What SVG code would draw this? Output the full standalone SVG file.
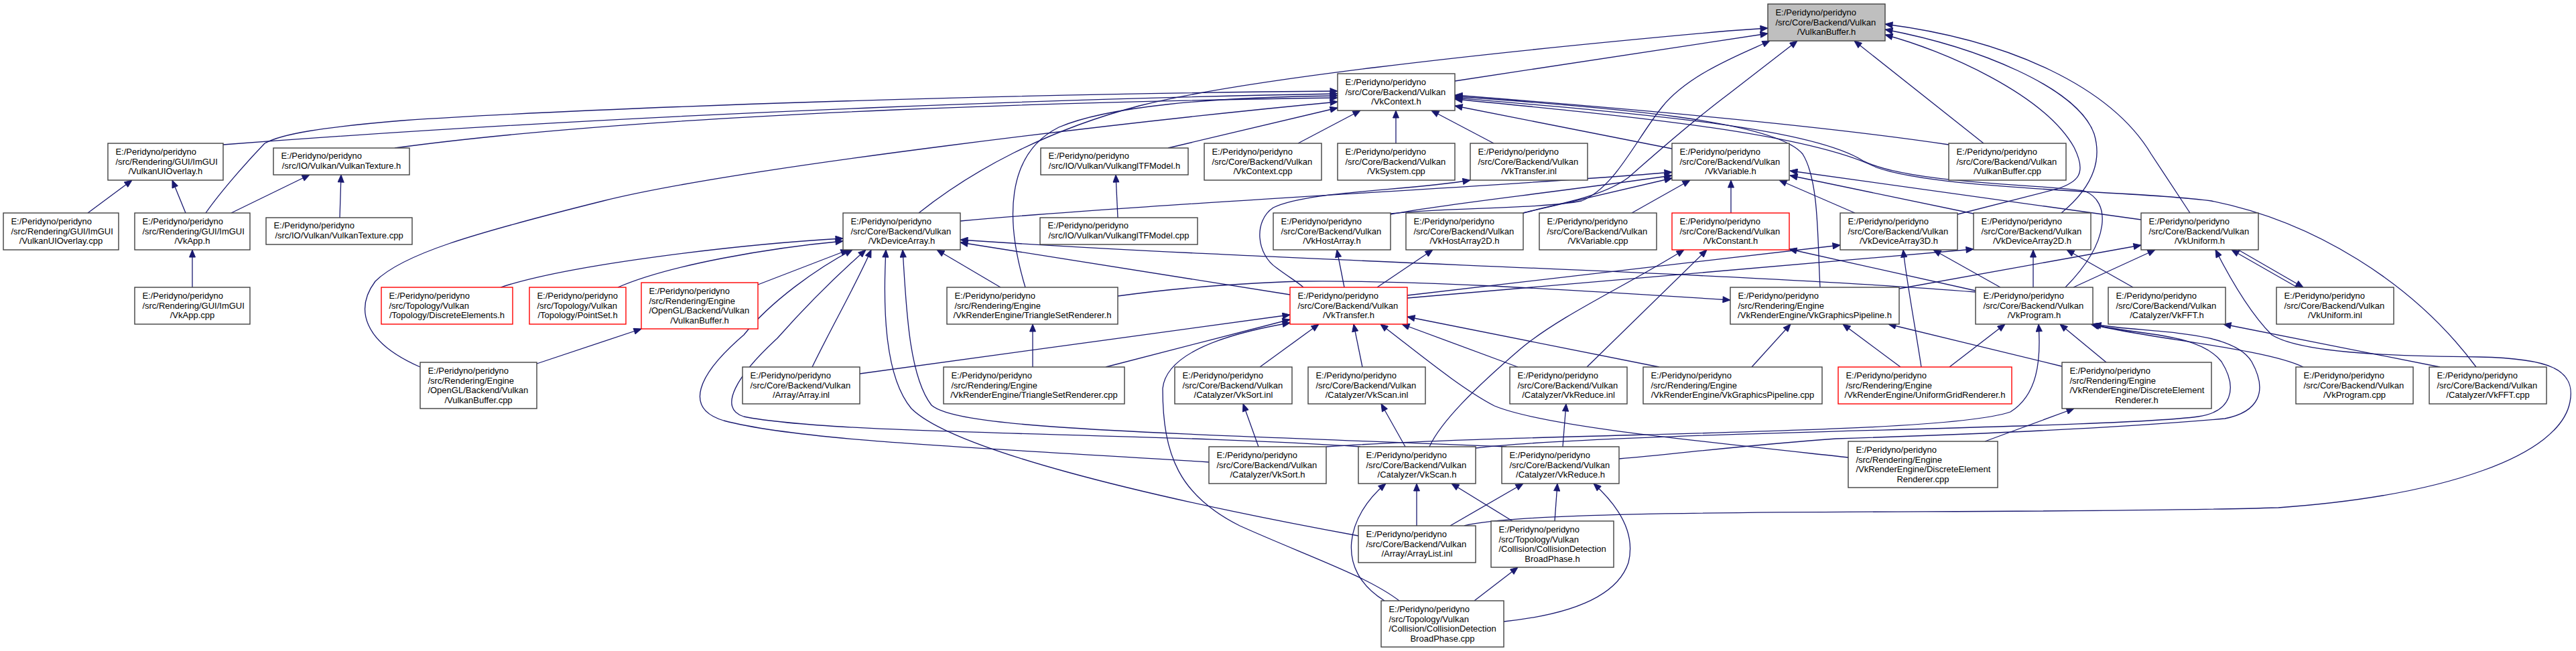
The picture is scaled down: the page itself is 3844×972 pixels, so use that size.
<svg xmlns="http://www.w3.org/2000/svg" width="3844" height="972" viewBox="0 0 3844 972">
<style>
.n rect{fill:#fff;stroke:#404040;stroke-width:1.4}
.n.red rect{stroke:#ff0000}
.n.root rect{fill:#bfbfbf}
.n text{font-family:"Liberation Sans",Arial,sans-serif;font-size:13px;fill:#000}
.n text.c{text-anchor:middle}
.e path{fill:none;stroke:#191970;stroke-width:1.3;marker-start:url(#ah)}
</style>
<defs>
<marker id="ah" viewBox="0 -5 12 10" refX="0" refY="0" markerWidth="12" markerHeight="10" markerUnits="userSpaceOnUse" orient="auto"><path d="M0,0 L11,-4.5 L11,4.5 Z" fill="#191970" stroke="#191970" stroke-width="1"/></marker>
</defs>
<rect x="0" y="0" width="3844" height="972" fill="#fff"/>
<g id="edges" class="e">
<path d="M2638,50 L2171,121"/>
<path d="M2638,42 L2580,46 C2200,80 1850,120 1700,158 C1560,195 1450,255 1371,318"/>
<path d="M2641,61 C2600,80 2520,110 2480,160 C2440,210 2410,280 2360,300 C2300,312 2150,310 2075,319"/>
<path d="M2682,61 L2580,140 C2520,185 2470,230 2430,265 C2390,295 2320,305 2273,318"/>
<path d="M2767,61 L2960,214"/>
<path d="M2813,52 C2900,75 3050,140 3095,220 C3115,260 3100,272 3070,282 L2921,320"/>
<path d="M2813,44 C2950,70 3100,130 3125,200 C3140,250 3110,290 3076,318"/>
<path d="M2813,36 C3000,60 3150,130 3210,230 L3268,318"/>
<path d="M1996,140 C1700,145 1000,165 333,216"/>
<path d="M1996,136 C1500,140 900,160 600,180 C480,190 420,200 395,214 C370,240 330,285 307,318"/>
<path d="M1996,146 C1700,150 1000,165 589,221"/>
<path d="M1996,152 C1700,180 1100,250 900,300 C700,350 600,380 560,420 C530,460 540,510 627,548"/>
<path d="M1996,143 C1800,145 1650,160 1580,190 C1500,230 1500,330 1530,429"/>
<path d="M1996,161 L1743,221"/>
<path d="M2030,165 L1937,214"/>
<path d="M2083,165 L2083,214"/>
<path d="M2136,165 L2229,214"/>
<path d="M2171,158 L2495,222"/>
<path d="M2171,142 C2400,160 2700,185 2908,216"/>
<path d="M2171,144 C2400,160 2650,180 2690,230 C2715,270 2712,360 2716,429"/>
<path d="M2171,146 C2450,170 2700,190 2780,240 C2850,275 3050,275 3110,285 C3150,300 3150,360 3082,429"/>
<path d="M2171,148 C2450,175 2700,200 2800,250 C2900,285 3200,285 3300,300 C3450,330 3600,420 3695,548"/>
<path d="M197,269 L131,318"/>
<path d="M257,269 L277,318"/>
<path d="M462,261 L345,318"/>
<path d="M509,261 L507,325"/>
<path d="M287,373 L287,429"/>
<path d="M1665,261 L1668,325"/>
<path d="M1258,356 C1100,365 850,395 747,429"/>
<path d="M1258,360 C1150,370 1000,395 922,429"/>
<path d="M1266,373 L1131,425"/>
<path d="M957,491 L801,543"/>
<path d="M1398,373 L1493,429"/>
<path d="M1300,373 C1280,420 1240,490 1212,548"/>
<path d="M1322,373 C1318,450 1318,560 1360,610 C1420,670 1700,740 2027,800"/>
<path d="M1272,373 C1220,400 1150,450 1110,500 C1040,560 1020,610 1080,628 C1200,660 1500,670 1804,690"/>
<path d="M1292,373 C1250,410 1200,460 1160,505 C1100,560 1070,610 1110,622 C1250,650 1700,645 2030,667"/>
<path d="M1347,373 C1352,450 1355,560 1390,605 C1430,640 1700,645 2248,667"/>
<path d="M1433,362 L1925,440"/>
<path d="M1433,358 C1900,390 2560,405 2948,436"/>
<path d="M2495,257 C2300,275 1700,305 1433,330"/>
<path d="M2495,262 C2300,290 2150,305 2075,320"/>
<path d="M2495,266 L2273,318"/>
<path d="M2522,269 L2435,318"/>
<path d="M2583,269 L2583,318"/>
<path d="M2655,269 L2768,318"/>
<path d="M2671,262 L2945,319"/>
<path d="M2671,255 L3195,328"/>
<path d="M2194,269 C2100,285 1950,285 1900,310 C1870,330 1875,380 1905,400 C1925,415 1935,420 1945,429"/>
<path d="M1995,373 L2006,429"/>
<path d="M2138,373 L2055,429"/>
<path d="M2513,373 C2430,425 2330,470 2270,520 C2200,580 2150,630 2133,667"/>
<path d="M2547,373 L2368,548"/>
<path d="M2670,372 L2948,434"/>
<path d="M1968,484 L1880,548"/>
<path d="M2020,484 L2033,548"/>
<path d="M2060,484 C2120,530 2180,580 2230,606 C2300,635 2500,655 2758,683"/>
<path d="M2092,484 L2265,548"/>
<path d="M2100,473 L2476,548"/>
<path d="M1925,470 L1283,558"/>
<path d="M1925,477 L1650,548"/>
<path d="M1925,482 C1820,500 1740,530 1735,580 C1735,680 1760,740 1850,785 C1950,830 2040,860 2088,897"/>
<path d="M1541,484 L1541,548"/>
<path d="M2582,448 C2300,430 2100,418 1940,420 C1800,425 1720,435 1668,442"/>
<path d="M2672,484 L2614,548"/>
<path d="M2750,484 L2836,548"/>
<path d="M2818,484 L3077,547"/>
<path d="M3195,366 L2834,431"/>
<path d="M2885,373 L2985,429"/>
<path d="M3034,373 L3034,429"/>
<path d="M3216,373 L3094,429"/>
<path d="M3084,373 L3183,429"/>
<path d="M2840,373 C2845,420 2860,500 2867,548"/>
<path d="M2746,366 L2100,441"/>
<path d="M2945,372 L2100,445"/>
<path d="M2992,484 L2909,548"/>
<path d="M3120,484 C3200,505 3380,520 3437,548"/>
<path d="M3318,484 L3641,548"/>
<path d="M3074,484 L3143,541"/>
<path d="M3095,610 L2962,659"/>
<path d="M2061,603 L2097,667"/>
<path d="M2337,603 L2332,667"/>
<path d="M1855,603 L1878,667"/>
<path d="M2114,722 L2114,785"/>
<path d="M2273,722 L2164,785"/>
<path d="M2166,722 L2257,778"/>
<path d="M2324,722 L2320,778"/>
<path d="M2068,722 C2010,770 1990,850 2066,897"/>
<path d="M2378,722 C2420,760 2440,800 2430,840 C2410,900 2320,920 2244,928"/>
<path d="M2265,847 L2200,897"/>
<path d="M3306,373 C3330,420 3360,470 3390,500 C3430,525 3550,532 3700,533 C3800,535 3845,550 3835,600 C3820,680 3650,740 3400,758 C3000,770 2300,755 2185,785"/>
<path d="M3330,373 L3428,429"/>
<path d="M3437,429 L3340,373"/>
<path d="M3042,484 C3046,540 3040,590 3000,615 C2900,650 2300,645 1979,667"/>
<path d="M3122,484 C3180,500 3280,495 3315,540 C3340,580 3330,615 3280,622 C3150,640 2400,645 2202,669"/>
<path d="M3124,484 C3200,498 3330,490 3360,540 C3385,585 3370,615 3320,625 C3150,640 2900,650 2740,655 C2600,665 2500,678 2416,685"/>
</g>
<g id="n01" class="n root"><rect x="2638" y="6" width="175" height="55"/><text x="2649.4" y="23">E:/Peridyno/peridyno</text><text x="2649.4" y="37.5">/src/Core/Backend/Vulkan</text><text class="c" x="2725.5" y="52">/VulkanBuffer.h</text></g>
<g id="n02" class="n"><rect x="1996" y="110" width="175" height="55"/><text x="2007.4" y="127">E:/Peridyno/peridyno</text><text x="2007.4" y="141.5">/src/Core/Backend/Vulkan</text><text class="c" x="2083.5" y="156">/VkContext.h</text></g>
<g id="n03" class="n"><rect x="161" y="214" width="172" height="55"/><text x="172.4" y="231">E:/Peridyno/peridyno</text><text x="172.4" y="245.5">/src/Rendering/GUI/ImGUI</text><text class="c" x="247" y="260">/VulkanUIOverlay.h</text></g>
<g id="n04" class="n"><rect x="408" y="221" width="203" height="40"/><text x="419.4" y="237">E:/Peridyno/peridyno</text><text class="c" x="509.5" y="251.5">/src/IO/Vulkan/VulkanTexture.h</text></g>
<g id="n05" class="n"><rect x="1553" y="221" width="220" height="40"/><text x="1564.4" y="237">E:/Peridyno/peridyno</text><text class="c" x="1663" y="251.5">/src/IO/Vulkan/VulkanglTFModel.h</text></g>
<g id="n06" class="n"><rect x="1797" y="214" width="175" height="55"/><text x="1808.4" y="231">E:/Peridyno/peridyno</text><text x="1808.4" y="245.5">/src/Core/Backend/Vulkan</text><text class="c" x="1884.5" y="260">/VkContext.cpp</text></g>
<g id="n07" class="n"><rect x="1996" y="214" width="175" height="55"/><text x="2007.4" y="231">E:/Peridyno/peridyno</text><text x="2007.4" y="245.5">/src/Core/Backend/Vulkan</text><text class="c" x="2083.5" y="260">/VkSystem.cpp</text></g>
<g id="n08" class="n"><rect x="2194" y="214" width="175" height="55"/><text x="2205.4" y="231">E:/Peridyno/peridyno</text><text x="2205.4" y="245.5">/src/Core/Backend/Vulkan</text><text class="c" x="2281.5" y="260">/VkTransfer.inl</text></g>
<g id="n09" class="n"><rect x="2495" y="214" width="175" height="55"/><text x="2506.4" y="231">E:/Peridyno/peridyno</text><text x="2506.4" y="245.5">/src/Core/Backend/Vulkan</text><text class="c" x="2582.5" y="260">/VkVariable.h</text></g>
<g id="n10" class="n"><rect x="2908" y="214" width="175" height="55"/><text x="2919.4" y="231">E:/Peridyno/peridyno</text><text x="2919.4" y="245.5">/src/Core/Backend/Vulkan</text><text class="c" x="2995.5" y="260">/VulkanBuffer.cpp</text></g>
<g id="n11" class="n"><rect x="5" y="318" width="172" height="55"/><text x="16.4" y="335">E:/Peridyno/peridyno</text><text x="16.4" y="349.5">/src/Rendering/GUI/ImGUI</text><text class="c" x="91" y="364">/VulkanUIOverlay.cpp</text></g>
<g id="n12" class="n"><rect x="201" y="318" width="172" height="55"/><text x="212.4" y="335">E:/Peridyno/peridyno</text><text x="212.4" y="349.5">/src/Rendering/GUI/ImGUI</text><text class="c" x="287" y="364">/VkApp.h</text></g>
<g id="n13" class="n"><rect x="397" y="325" width="218" height="40"/><text x="408.4" y="341">E:/Peridyno/peridyno</text><text class="c" x="506" y="355.5">/src/IO/Vulkan/VulkanTexture.cpp</text></g>
<g id="n14" class="n"><rect x="1258" y="318" width="175" height="55"/><text x="1269.4" y="335">E:/Peridyno/peridyno</text><text x="1269.4" y="349.5">/src/Core/Backend/Vulkan</text><text class="c" x="1345.5" y="364">/VkDeviceArray.h</text></g>
<g id="n15" class="n"><rect x="1552" y="325" width="235" height="40"/><text x="1563.4" y="341">E:/Peridyno/peridyno</text><text class="c" x="1669.5" y="355.5">/src/IO/Vulkan/VulkanglTFModel.cpp</text></g>
<g id="n16" class="n"><rect x="1900" y="318" width="175" height="55"/><text x="1911.4" y="335">E:/Peridyno/peridyno</text><text x="1911.4" y="349.5">/src/Core/Backend/Vulkan</text><text class="c" x="1987.5" y="364">/VkHostArray.h</text></g>
<g id="n17" class="n"><rect x="2098" y="318" width="175" height="55"/><text x="2109.4" y="335">E:/Peridyno/peridyno</text><text x="2109.4" y="349.5">/src/Core/Backend/Vulkan</text><text class="c" x="2185.5" y="364">/VkHostArray2D.h</text></g>
<g id="n18" class="n"><rect x="2297" y="318" width="175" height="55"/><text x="2308.4" y="335">E:/Peridyno/peridyno</text><text x="2308.4" y="349.5">/src/Core/Backend/Vulkan</text><text class="c" x="2384.5" y="364">/VkVariable.cpp</text></g>
<g id="n19" class="n red"><rect x="2495" y="318" width="175" height="55"/><text x="2506.4" y="335">E:/Peridyno/peridyno</text><text x="2506.4" y="349.5">/src/Core/Backend/Vulkan</text><text class="c" x="2582.5" y="364">/VkConstant.h</text></g>
<g id="n20" class="n"><rect x="2746" y="318" width="175" height="55"/><text x="2757.4" y="335">E:/Peridyno/peridyno</text><text x="2757.4" y="349.5">/src/Core/Backend/Vulkan</text><text class="c" x="2833.5" y="364">/VkDeviceArray3D.h</text></g>
<g id="n21" class="n"><rect x="2945" y="318" width="175" height="55"/><text x="2956.4" y="335">E:/Peridyno/peridyno</text><text x="2956.4" y="349.5">/src/Core/Backend/Vulkan</text><text class="c" x="3032.5" y="364">/VkDeviceArray2D.h</text></g>
<g id="n22" class="n"><rect x="3195" y="318" width="175" height="55"/><text x="3206.4" y="335">E:/Peridyno/peridyno</text><text x="3206.4" y="349.5">/src/Core/Backend/Vulkan</text><text class="c" x="3282.5" y="364">/VkUniform.h</text></g>
<g id="n23" class="n"><rect x="201" y="429" width="172" height="55"/><text x="212.4" y="446">E:/Peridyno/peridyno</text><text x="212.4" y="460.5">/src/Rendering/GUI/ImGUI</text><text class="c" x="287" y="475">/VkApp.cpp</text></g>
<g id="n24" class="n red"><rect x="569" y="429" width="196" height="55"/><text x="580.4" y="446">E:/Peridyno/peridyno</text><text x="580.4" y="460.5">/src/Topology/Vulkan</text><text class="c" x="667" y="475">/Topology/DiscreteElements.h</text></g>
<g id="n25" class="n red"><rect x="790" y="429" width="144" height="55"/><text x="801.4" y="446">E:/Peridyno/peridyno</text><text x="801.4" y="460.5">/src/Topology/Vulkan</text><text class="c" x="862" y="475">/Topology/PointSet.h</text></g>
<g id="n26" class="n red"><rect x="957" y="422" width="174" height="69"/><text x="968.4" y="439">E:/Peridyno/peridyno</text><text x="968.4" y="453.5">/src/Rendering/Engine</text><text x="968.4" y="468">/OpenGL/Backend/Vulkan</text><text class="c" x="1044" y="482.5">/VulkanBuffer.h</text></g>
<g id="n27" class="n"><rect x="1413" y="429" width="255" height="55"/><text x="1424.4" y="446">E:/Peridyno/peridyno</text><text x="1424.4" y="460.5">/src/Rendering/Engine</text><text class="c" x="1540.5" y="475">/VkRenderEngine/TriangleSetRenderer.h</text></g>
<g id="n28" class="n red"><rect x="1925" y="429" width="175" height="55"/><text x="1936.4" y="446">E:/Peridyno/peridyno</text><text x="1936.4" y="460.5">/src/Core/Backend/Vulkan</text><text class="c" x="2012.5" y="475">/VkTransfer.h</text></g>
<g id="n29" class="n"><rect x="2582" y="429" width="252" height="55"/><text x="2593.4" y="446">E:/Peridyno/peridyno</text><text x="2593.4" y="460.5">/src/Rendering/Engine</text><text class="c" x="2708" y="475">/VkRenderEngine/VkGraphicsPipeline.h</text></g>
<g id="n30" class="n"><rect x="2948" y="429" width="175" height="55"/><text x="2959.4" y="446">E:/Peridyno/peridyno</text><text x="2959.4" y="460.5">/src/Core/Backend/Vulkan</text><text class="c" x="3035.5" y="475">/VkProgram.h</text></g>
<g id="n31" class="n"><rect x="3146" y="429" width="175" height="55"/><text x="3157.4" y="446">E:/Peridyno/peridyno</text><text x="3157.4" y="460.5">/src/Core/Backend/Vulkan</text><text class="c" x="3233.5" y="475">/Catalyzer/VkFFT.h</text></g>
<g id="n32" class="n"><rect x="3397" y="429" width="175" height="55"/><text x="3408.4" y="446">E:/Peridyno/peridyno</text><text x="3408.4" y="460.5">/src/Core/Backend/Vulkan</text><text class="c" x="3484.5" y="475">/VkUniform.inl</text></g>
<g id="n33" class="n"><rect x="627" y="541" width="174" height="69"/><text x="638.4" y="558">E:/Peridyno/peridyno</text><text x="638.4" y="572.5">/src/Rendering/Engine</text><text x="638.4" y="587">/OpenGL/Backend/Vulkan</text><text class="c" x="714" y="601.5">/VulkanBuffer.cpp</text></g>
<g id="n34" class="n"><rect x="1108" y="548" width="175" height="55"/><text x="1119.4" y="565">E:/Peridyno/peridyno</text><text x="1119.4" y="579.5">/src/Core/Backend/Vulkan</text><text class="c" x="1195.5" y="594">/Array/Array.inl</text></g>
<g id="n35" class="n"><rect x="1408" y="548" width="270" height="55"/><text x="1419.4" y="565">E:/Peridyno/peridyno</text><text x="1419.4" y="579.5">/src/Rendering/Engine</text><text class="c" x="1543" y="594">/VkRenderEngine/TriangleSetRenderer.cpp</text></g>
<g id="n36" class="n"><rect x="1753" y="548" width="175" height="55"/><text x="1764.4" y="565">E:/Peridyno/peridyno</text><text x="1764.4" y="579.5">/src/Core/Backend/Vulkan</text><text class="c" x="1840.5" y="594">/Catalyzer/VkSort.inl</text></g>
<g id="n37" class="n"><rect x="1952" y="548" width="175" height="55"/><text x="1963.4" y="565">E:/Peridyno/peridyno</text><text x="1963.4" y="579.5">/src/Core/Backend/Vulkan</text><text class="c" x="2039.5" y="594">/Catalyzer/VkScan.inl</text></g>
<g id="n38" class="n"><rect x="2253" y="548" width="175" height="55"/><text x="2264.4" y="565">E:/Peridyno/peridyno</text><text x="2264.4" y="579.5">/src/Core/Backend/Vulkan</text><text class="c" x="2340.5" y="594">/Catalyzer/VkReduce.inl</text></g>
<g id="n39" class="n"><rect x="2452" y="548" width="267" height="55"/><text x="2463.4" y="565">E:/Peridyno/peridyno</text><text x="2463.4" y="579.5">/src/Rendering/Engine</text><text class="c" x="2585.5" y="594">/VkRenderEngine/VkGraphicsPipeline.cpp</text></g>
<g id="n40" class="n red"><rect x="2743" y="548" width="259" height="55"/><text x="2754.4" y="565">E:/Peridyno/peridyno</text><text x="2754.4" y="579.5">/src/Rendering/Engine</text><text class="c" x="2872.5" y="594">/VkRenderEngine/UniformGridRenderer.h</text></g>
<g id="n41" class="n"><rect x="3077" y="541" width="223" height="69"/><text x="3088.4" y="558">E:/Peridyno/peridyno</text><text x="3088.4" y="572.5">/src/Rendering/Engine</text><text x="3088.4" y="587">/VkRenderEngine/DiscreteElement</text><text class="c" x="3188.5" y="601.5">Renderer.h</text></g>
<g id="n42" class="n"><rect x="3426" y="548" width="175" height="55"/><text x="3437.4" y="565">E:/Peridyno/peridyno</text><text x="3437.4" y="579.5">/src/Core/Backend/Vulkan</text><text class="c" x="3513.5" y="594">/VkProgram.cpp</text></g>
<g id="n43" class="n"><rect x="3625" y="548" width="175" height="55"/><text x="3636.4" y="565">E:/Peridyno/peridyno</text><text x="3636.4" y="579.5">/src/Core/Backend/Vulkan</text><text class="c" x="3712.5" y="594">/Catalyzer/VkFFT.cpp</text></g>
<g id="n44" class="n"><rect x="1804" y="667" width="175" height="55"/><text x="1815.4" y="684">E:/Peridyno/peridyno</text><text x="1815.4" y="698.5">/src/Core/Backend/Vulkan</text><text class="c" x="1891.5" y="713">/Catalyzer/VkSort.h</text></g>
<g id="n45" class="n"><rect x="2027" y="667" width="175" height="55"/><text x="2038.4" y="684">E:/Peridyno/peridyno</text><text x="2038.4" y="698.5">/src/Core/Backend/Vulkan</text><text class="c" x="2114.5" y="713">/Catalyzer/VkScan.h</text></g>
<g id="n46" class="n"><rect x="2241" y="667" width="175" height="55"/><text x="2252.4" y="684">E:/Peridyno/peridyno</text><text x="2252.4" y="698.5">/src/Core/Backend/Vulkan</text><text class="c" x="2328.5" y="713">/Catalyzer/VkReduce.h</text></g>
<g id="n47" class="n"><rect x="2758" y="659" width="223" height="69"/><text x="2769.4" y="676">E:/Peridyno/peridyno</text><text x="2769.4" y="690.5">/src/Rendering/Engine</text><text x="2769.4" y="705">/VkRenderEngine/DiscreteElement</text><text class="c" x="2869.5" y="719.5">Renderer.cpp</text></g>
<g id="n48" class="n"><rect x="2027" y="785" width="175" height="55"/><text x="2038.4" y="802">E:/Peridyno/peridyno</text><text x="2038.4" y="816.5">/src/Core/Backend/Vulkan</text><text class="c" x="2114.5" y="831">/Array/ArrayList.inl</text></g>
<g id="n49" class="n"><rect x="2225" y="778" width="183" height="69"/><text x="2236.4" y="795">E:/Peridyno/peridyno</text><text x="2236.4" y="809.5">/src/Topology/Vulkan</text><text x="2236.4" y="824">/Collision/CollisionDetection</text><text class="c" x="2316.5" y="838.5">BroadPhase.h</text></g>
<g id="n50" class="n"><rect x="2061" y="897" width="183" height="69"/><text x="2072.4" y="914">E:/Peridyno/peridyno</text><text x="2072.4" y="928.5">/src/Topology/Vulkan</text><text x="2072.4" y="943">/Collision/CollisionDetection</text><text class="c" x="2152.5" y="957.5">BroadPhase.cpp</text></g>
</svg>
